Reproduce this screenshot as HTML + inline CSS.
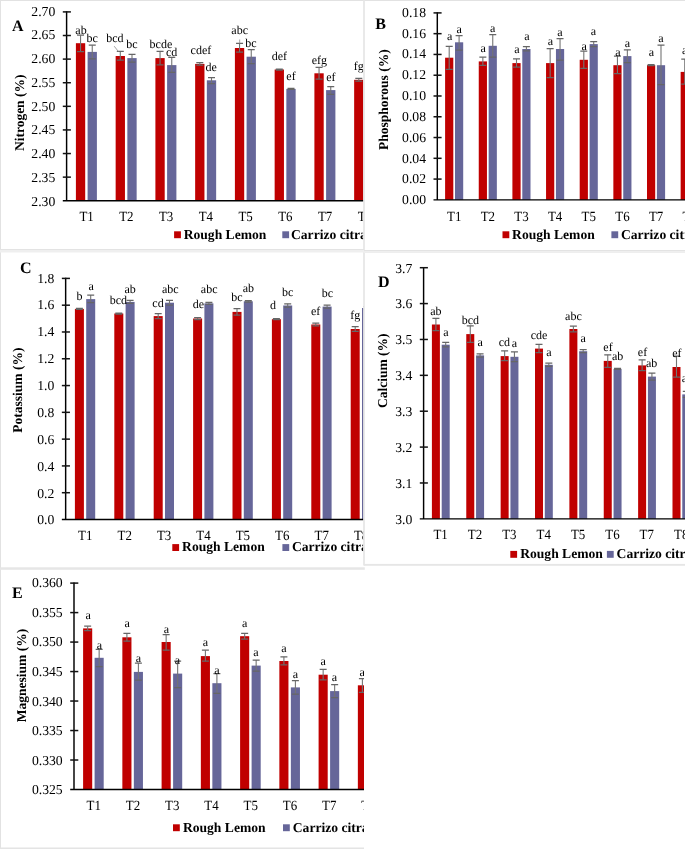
<!DOCTYPE html>
<html><head><meta charset="utf-8"><title>Figure</title>
<style>html,body{margin:0;padding:0;background:#fff}svg{display:block;will-change:transform;mix-blend-mode:multiply}text{text-rendering:geometricPrecision;font-family:"Liberation Serif",serif;fill:#000}</style>
</head><body>
<svg width="685" height="849" viewBox="0 0 685 849">
<rect width="685" height="849" fill="#fff"/>
<defs>
</defs>
<clipPath id="cA"><rect x="0" y="0" width="363.6" height="250"/></clipPath>
<g clip-path="url(#cA)">
<rect x="75.90" y="43.20" width="9.3" height="157.55" fill="#c00000"/>
<path d="M80.55 35.20V51.50" stroke="#747474" stroke-width="1.1" fill="none"/>
<path d="M77.05 35.20H84.05M77.05 51.50H84.05" stroke="#666" stroke-width="1.25" fill="none"/>
<rect x="87.60" y="51.90" width="9.3" height="148.85" fill="#666699"/>
<path d="M92.25 45.20V58.80" stroke="#747474" stroke-width="1.1" fill="none"/>
<path d="M88.75 45.20H95.75M88.75 58.80H95.75" stroke="#666" stroke-width="1.25" fill="none"/>
<rect x="115.65" y="56.00" width="9.3" height="144.75" fill="#c00000"/>
<path d="M120.30 51.30V60.20" stroke="#747474" stroke-width="1.1" fill="none"/>
<path d="M116.80 51.30H123.80M116.80 60.20H123.80" stroke="#666" stroke-width="1.25" fill="none"/>
<rect x="127.35" y="58.10" width="9.3" height="142.65" fill="#666699"/>
<path d="M132.00 54.30V62.00" stroke="#747474" stroke-width="1.1" fill="none"/>
<path d="M128.50 54.30H135.50M128.50 62.00H135.50" stroke="#666" stroke-width="1.25" fill="none"/>
<rect x="155.40" y="58.10" width="9.3" height="142.65" fill="#c00000"/>
<path d="M160.05 51.30V64.80" stroke="#747474" stroke-width="1.1" fill="none"/>
<path d="M156.55 51.30H163.55M156.55 64.80H163.55" stroke="#666" stroke-width="1.25" fill="none"/>
<rect x="167.10" y="65.10" width="9.3" height="135.65" fill="#666699"/>
<path d="M171.75 57.40V72.30" stroke="#747474" stroke-width="1.1" fill="none"/>
<path d="M168.25 57.40H175.25M168.25 72.30H175.25" stroke="#666" stroke-width="1.25" fill="none"/>
<rect x="195.15" y="63.90" width="9.3" height="136.85" fill="#c00000"/>
<path d="M199.80 62.70V65.10" stroke="#747474" stroke-width="1.1" fill="none"/>
<path d="M196.30 62.70H203.30M196.30 65.10H203.30" stroke="#666" stroke-width="1.25" fill="none"/>
<rect x="206.85" y="80.30" width="9.3" height="120.45" fill="#666699"/>
<path d="M211.50 77.50V83.50" stroke="#747474" stroke-width="1.1" fill="none"/>
<path d="M208.00 77.50H215.00M208.00 83.50H215.00" stroke="#666" stroke-width="1.25" fill="none"/>
<rect x="234.90" y="48.00" width="9.3" height="152.75" fill="#c00000"/>
<path d="M239.55 43.40V52.20" stroke="#747474" stroke-width="1.1" fill="none"/>
<path d="M236.05 43.40H243.05M236.05 52.20H243.05" stroke="#666" stroke-width="1.25" fill="none"/>
<rect x="246.60" y="56.70" width="9.3" height="144.05" fill="#666699"/>
<path d="M251.25 49.70V63.70" stroke="#747474" stroke-width="1.1" fill="none"/>
<path d="M247.75 49.70H254.75M247.75 63.70H254.75" stroke="#666" stroke-width="1.25" fill="none"/>
<rect x="274.65" y="69.50" width="9.3" height="131.25" fill="#c00000"/>
<path d="M279.30 69.00V70.00" stroke="#747474" stroke-width="1.1" fill="none"/>
<path d="M275.80 69.00H282.80M275.80 70.00H282.80" stroke="#666" stroke-width="1.25" fill="none"/>
<rect x="286.35" y="88.90" width="9.3" height="111.85" fill="#666699"/>
<path d="M291.00 88.40V89.40" stroke="#747474" stroke-width="1.1" fill="none"/>
<path d="M287.50 88.40H294.50M287.50 89.40H294.50" stroke="#666" stroke-width="1.25" fill="none"/>
<rect x="314.40" y="73.30" width="9.3" height="127.45" fill="#c00000"/>
<path d="M319.05 67.40V79.10" stroke="#747474" stroke-width="1.1" fill="none"/>
<path d="M315.55 67.40H322.55M315.55 79.10H322.55" stroke="#666" stroke-width="1.25" fill="none"/>
<rect x="326.10" y="90.10" width="9.3" height="110.65" fill="#666699"/>
<path d="M330.75 86.60V94.30" stroke="#747474" stroke-width="1.1" fill="none"/>
<path d="M327.25 86.60H334.25M327.25 94.30H334.25" stroke="#666" stroke-width="1.25" fill="none"/>
<rect x="354.15" y="79.80" width="9.3" height="120.95" fill="#c00000"/>
<path d="M358.80 78.40V81.20" stroke="#747474" stroke-width="1.1" fill="none"/>
<path d="M355.30 78.40H362.30M355.30 81.20H362.30" stroke="#666" stroke-width="1.25" fill="none"/>
<rect x="365.85" y="95.00" width="9.3" height="105.75" fill="#666699"/>
<path d="M370.50 93.00V97.00" stroke="#747474" stroke-width="1.1" fill="none"/>
<path d="M367.00 93.00H374.00M367.00 97.00H374.00" stroke="#666" stroke-width="1.25" fill="none"/>
<path d="M114.2 46.2L118.4 51.5" stroke="#8a8a8a" stroke-width="0.8" fill="none"/>
<path d="M239.7 39.5L239.7 43.4" stroke="#8a8a8a" stroke-width="0.8" fill="none"/>
<path d="M66.6 11.20V201.45M62.80 200.75H368.6" stroke="#000" stroke-width="1.45" fill="none"/>
<path d="M62.80 11.90H70.90" stroke="#111" stroke-width="1.5"/>
<text x="55.30" y="15.60" font-size="13.7" text-anchor="end">2.70</text>
<path d="M62.80 35.51H70.90" stroke="#111" stroke-width="1.5"/>
<text x="55.30" y="39.36" font-size="13.7" text-anchor="end">2.65</text>
<path d="M62.80 59.11H70.90" stroke="#111" stroke-width="1.5"/>
<text x="55.30" y="63.11" font-size="13.7" text-anchor="end">2.60</text>
<path d="M62.80 82.72H70.90" stroke="#111" stroke-width="1.5"/>
<text x="55.30" y="86.87" font-size="13.7" text-anchor="end">2.55</text>
<path d="M62.80 106.33H70.90" stroke="#111" stroke-width="1.5"/>
<text x="55.30" y="110.62" font-size="13.7" text-anchor="end">2.50</text>
<path d="M62.80 129.93H70.90" stroke="#111" stroke-width="1.5"/>
<text x="55.30" y="134.38" font-size="13.7" text-anchor="end">2.45</text>
<path d="M62.80 153.54H70.90" stroke="#111" stroke-width="1.5"/>
<text x="55.30" y="158.14" font-size="13.7" text-anchor="end">2.40</text>
<path d="M62.80 177.14H70.90" stroke="#111" stroke-width="1.5"/>
<text x="55.30" y="181.89" font-size="13.7" text-anchor="end">2.35</text>
<text x="55.30" y="205.65" font-size="13.7" text-anchor="end">2.30</text>
<text x="81.00" y="33.50" font-size="12" text-anchor="middle">ab</text>
<text x="92.20" y="42.20" font-size="12" text-anchor="middle">bc</text>
<text x="114.90" y="41.70" font-size="12" text-anchor="middle">bcd</text>
<text x="132.00" y="48.00" font-size="12" text-anchor="middle">bc</text>
<text x="160.90" y="48.00" font-size="12" text-anchor="middle">bcde</text>
<text x="171.70" y="55.50" font-size="12" text-anchor="middle">cd</text>
<text x="200.90" y="53.90" font-size="12" text-anchor="middle">cdef</text>
<text x="211.10" y="70.90" font-size="12" text-anchor="middle">de</text>
<text x="239.70" y="34.00" font-size="12" text-anchor="middle">abc</text>
<text x="250.90" y="47.00" font-size="12" text-anchor="middle">bc</text>
<text x="279.40" y="59.70" font-size="12" text-anchor="middle">def</text>
<text x="291.00" y="79.60" font-size="12" text-anchor="middle">ef</text>
<text x="319.30" y="63.70" font-size="12" text-anchor="middle">efg</text>
<text x="330.80" y="80.70" font-size="12" text-anchor="middle">ef</text>
<text x="358.80" y="70.20" font-size="12" text-anchor="middle">fg</text>
<text transform="translate(86.60 221.20) scale(0.925 1)" font-size="14" text-anchor="middle">T1</text>
<text transform="translate(126.35 221.20) scale(0.925 1)" font-size="14" text-anchor="middle">T2</text>
<text transform="translate(166.10 221.20) scale(0.925 1)" font-size="14" text-anchor="middle">T3</text>
<text transform="translate(205.85 221.20) scale(0.925 1)" font-size="14" text-anchor="middle">T4</text>
<text transform="translate(245.60 221.20) scale(0.925 1)" font-size="14" text-anchor="middle">T5</text>
<text transform="translate(285.35 221.20) scale(0.925 1)" font-size="14" text-anchor="middle">T6</text>
<text transform="translate(325.10 221.20) scale(0.925 1)" font-size="14" text-anchor="middle">T7</text>
<text transform="translate(364.85 221.20) scale(0.925 1)" font-size="14" text-anchor="middle">T8</text>
<rect x="174.1" y="231.29999999999998" width="6.8" height="6.9" fill="#c00000"/>
<text x="183.70" y="238.60" font-size="13.6" text-anchor="start" font-weight="bold">Rough Lemon</text>
<rect x="282.3" y="231.29999999999998" width="6.8" height="6.9" fill="#666699"/>
<text x="291.00" y="238.60" font-size="13.6" text-anchor="start" font-weight="bold">Carrizo citrange</text>
<text x="12.00" y="30.70" font-size="16" text-anchor="start" font-weight="bold">A</text>
<text transform="translate(23.8 112.8) rotate(-90)" font-size="13.5" text-anchor="middle" font-weight="bold">Nitrogen (%)</text>
</g>
<clipPath id="cB"><rect x="365" y="0" width="320" height="250"/></clipPath>
<g clip-path="url(#cB)">
<rect x="445.10" y="57.70" width="8.2" height="142.15" fill="#c00000"/>
<path d="M449.20 46.30V69.40" stroke="#747474" stroke-width="1.1" fill="none"/>
<path d="M445.70 46.30H452.70M445.70 69.40H452.70" stroke="#666" stroke-width="1.25" fill="none"/>
<rect x="455.00" y="42.30" width="8.2" height="157.55" fill="#666699"/>
<path d="M459.10 35.50V50.20" stroke="#747474" stroke-width="1.1" fill="none"/>
<path d="M455.60 35.50H462.60M455.60 50.20H462.60" stroke="#666" stroke-width="1.25" fill="none"/>
<rect x="478.75" y="61.40" width="8.2" height="138.45" fill="#c00000"/>
<path d="M482.85 57.20V65.40" stroke="#747474" stroke-width="1.1" fill="none"/>
<path d="M479.35 57.20H486.35M479.35 65.40H486.35" stroke="#666" stroke-width="1.25" fill="none"/>
<rect x="488.65" y="45.80" width="8.2" height="154.05" fill="#666699"/>
<path d="M492.75 34.60V57.00" stroke="#747474" stroke-width="1.1" fill="none"/>
<path d="M489.25 34.60H496.25M489.25 57.00H496.25" stroke="#666" stroke-width="1.25" fill="none"/>
<rect x="512.40" y="63.10" width="8.2" height="136.75" fill="#c00000"/>
<path d="M516.50 58.90V67.00" stroke="#747474" stroke-width="1.1" fill="none"/>
<path d="M513.00 58.90H520.00M513.00 67.00H520.00" stroke="#666" stroke-width="1.25" fill="none"/>
<rect x="522.30" y="49.00" width="8.2" height="150.85" fill="#666699"/>
<path d="M526.40 46.70V50.90" stroke="#747474" stroke-width="1.1" fill="none"/>
<path d="M522.90 46.70H529.90M522.90 50.90H529.90" stroke="#666" stroke-width="1.25" fill="none"/>
<rect x="546.05" y="63.10" width="8.2" height="136.75" fill="#c00000"/>
<path d="M550.15 48.60V77.60" stroke="#747474" stroke-width="1.1" fill="none"/>
<path d="M546.65 48.60H553.65M546.65 77.60H553.65" stroke="#666" stroke-width="1.25" fill="none"/>
<rect x="555.95" y="49.00" width="8.2" height="150.85" fill="#666699"/>
<path d="M560.05 38.50V60.00" stroke="#747474" stroke-width="1.1" fill="none"/>
<path d="M556.55 38.50H563.55M556.55 60.00H563.55" stroke="#666" stroke-width="1.25" fill="none"/>
<rect x="579.70" y="59.80" width="8.2" height="140.05" fill="#c00000"/>
<path d="M583.80 51.20V68.40" stroke="#747474" stroke-width="1.1" fill="none"/>
<path d="M580.30 51.20H587.30M580.30 68.40H587.30" stroke="#666" stroke-width="1.25" fill="none"/>
<rect x="589.60" y="44.10" width="8.2" height="155.75" fill="#666699"/>
<path d="M593.70 41.60V46.70" stroke="#747474" stroke-width="1.1" fill="none"/>
<path d="M590.20 41.60H597.20M590.20 46.70H597.20" stroke="#666" stroke-width="1.25" fill="none"/>
<rect x="613.35" y="65.20" width="8.2" height="134.65" fill="#c00000"/>
<path d="M617.45 56.10V73.60" stroke="#747474" stroke-width="1.1" fill="none"/>
<path d="M613.95 56.10H620.95M613.95 73.60H620.95" stroke="#666" stroke-width="1.25" fill="none"/>
<rect x="623.25" y="56.10" width="8.2" height="143.75" fill="#666699"/>
<path d="M627.35 49.80V62.60" stroke="#747474" stroke-width="1.1" fill="none"/>
<path d="M623.85 49.80H630.85M623.85 62.60H630.85" stroke="#666" stroke-width="1.25" fill="none"/>
<rect x="647.00" y="65.20" width="8.2" height="134.65" fill="#c00000"/>
<path d="M651.10 64.70V65.70" stroke="#747474" stroke-width="1.1" fill="none"/>
<path d="M647.60 64.70H654.60M647.60 65.70H654.60" stroke="#666" stroke-width="1.25" fill="none"/>
<rect x="656.90" y="65.20" width="8.2" height="134.65" fill="#666699"/>
<path d="M661.00 45.10V84.60" stroke="#747474" stroke-width="1.1" fill="none"/>
<path d="M657.50 45.10H664.50M657.50 84.60H664.50" stroke="#666" stroke-width="1.25" fill="none"/>
<rect x="680.65" y="71.90" width="8.2" height="127.95" fill="#c00000"/>
<path d="M684.75 59.10V84.10" stroke="#747474" stroke-width="1.1" fill="none"/>
<path d="M681.25 59.10H688.25M681.25 84.10H688.25" stroke="#666" stroke-width="1.25" fill="none"/>
<rect x="690.55" y="60.00" width="8.2" height="139.85" fill="#666699"/>
<path d="M694.65 50.00V70.00" stroke="#747474" stroke-width="1.1" fill="none"/>
<path d="M691.15 50.00H698.15M691.15 70.00H698.15" stroke="#666" stroke-width="1.25" fill="none"/>
<path d="M437.3 12.20V200.55M433.50 199.85H690" stroke="#000" stroke-width="1.45" fill="none"/>
<path d="M433.50 12.90H441.60" stroke="#111" stroke-width="1.5"/>
<text x="426.00" y="16.80" font-size="13.7" text-anchor="end">0.18</text>
<path d="M433.50 33.67H441.60" stroke="#111" stroke-width="1.5"/>
<text x="426.00" y="37.62" font-size="13.7" text-anchor="end">0.16</text>
<path d="M433.50 54.44H441.60" stroke="#111" stroke-width="1.5"/>
<text x="426.00" y="58.43" font-size="13.7" text-anchor="end">0.14</text>
<path d="M433.50 75.22H441.60" stroke="#111" stroke-width="1.5"/>
<text x="426.00" y="79.25" font-size="13.7" text-anchor="end">0.12</text>
<path d="M433.50 95.99H441.60" stroke="#111" stroke-width="1.5"/>
<text x="426.00" y="100.07" font-size="13.7" text-anchor="end">0.10</text>
<path d="M433.50 116.76H441.60" stroke="#111" stroke-width="1.5"/>
<text x="426.00" y="120.88" font-size="13.7" text-anchor="end">0.08</text>
<path d="M433.50 137.53H441.60" stroke="#111" stroke-width="1.5"/>
<text x="426.00" y="141.70" font-size="13.7" text-anchor="end">0.06</text>
<path d="M433.50 158.31H441.60" stroke="#111" stroke-width="1.5"/>
<text x="426.00" y="162.52" font-size="13.7" text-anchor="end">0.04</text>
<path d="M433.50 179.08H441.60" stroke="#111" stroke-width="1.5"/>
<text x="426.00" y="183.33" font-size="13.7" text-anchor="end">0.02</text>
<text x="426.00" y="204.15" font-size="13.7" text-anchor="end">0.00</text>
<text x="449.70" y="40.20" font-size="12" text-anchor="middle">a</text>
<text x="459.10" y="32.70" font-size="12" text-anchor="middle">a</text>
<text x="483.10" y="51.90" font-size="12" text-anchor="middle">a</text>
<text x="492.70" y="31.50" font-size="12" text-anchor="middle">a</text>
<text x="516.80" y="53.30" font-size="12" text-anchor="middle">a</text>
<text x="526.90" y="39.70" font-size="12" text-anchor="middle">a</text>
<text x="550.50" y="44.80" font-size="12" text-anchor="middle">a</text>
<text x="560.00" y="35.50" font-size="12" text-anchor="middle">a</text>
<text x="584.10" y="50.20" font-size="12" text-anchor="middle">a</text>
<text x="593.40" y="34.60" font-size="12" text-anchor="middle">a</text>
<text x="618.00" y="56.10" font-size="12" text-anchor="middle">a</text>
<text x="627.30" y="46.70" font-size="12" text-anchor="middle">a</text>
<text x="651.40" y="55.60" font-size="12" text-anchor="middle">a</text>
<text x="661.00" y="42.00" font-size="12" text-anchor="middle">a</text>
<text x="684.70" y="53.90" font-size="12" text-anchor="middle">a</text>
<text transform="translate(454.20 220.80) scale(0.925 1)" font-size="14" text-anchor="middle">T1</text>
<text transform="translate(487.85 220.80) scale(0.925 1)" font-size="14" text-anchor="middle">T2</text>
<text transform="translate(521.50 220.80) scale(0.925 1)" font-size="14" text-anchor="middle">T3</text>
<text transform="translate(555.15 220.80) scale(0.925 1)" font-size="14" text-anchor="middle">T4</text>
<text transform="translate(588.80 220.80) scale(0.925 1)" font-size="14" text-anchor="middle">T5</text>
<text transform="translate(622.45 220.80) scale(0.925 1)" font-size="14" text-anchor="middle">T6</text>
<text transform="translate(656.10 220.80) scale(0.925 1)" font-size="14" text-anchor="middle">T7</text>
<text transform="translate(689.75 220.80) scale(0.925 1)" font-size="14" text-anchor="middle">T8</text>
<rect x="502.5" y="231.29999999999998" width="6.8" height="6.9" fill="#c00000"/>
<text x="512.10" y="238.60" font-size="13.6" text-anchor="start" font-weight="bold">Rough Lemon</text>
<rect x="611.4" y="231.29999999999998" width="6.8" height="6.9" fill="#666699"/>
<text x="620.90" y="238.60" font-size="13.6" text-anchor="start" font-weight="bold">Carrizo citrange</text>
<text x="375.20" y="29.20" font-size="16" text-anchor="start" font-weight="bold">B</text>
<text transform="translate(387.6 99.6) rotate(-90)" font-size="13.5" text-anchor="middle" font-weight="bold">Phosphorous (%)</text>
</g>
<clipPath id="cC"><rect x="0" y="252" width="363.6" height="316"/></clipPath>
<g clip-path="url(#cC)">
<rect x="74.90" y="308.90" width="9.0" height="210.60" fill="#c00000"/>
<path d="M79.40 308.40V309.40" stroke="#747474" stroke-width="1.1" fill="none"/>
<path d="M75.90 308.40H82.90M75.90 309.40H82.90" stroke="#666" stroke-width="1.25" fill="none"/>
<rect x="86.20" y="299.10" width="9.0" height="220.40" fill="#666699"/>
<path d="M90.70 295.10V302.60" stroke="#747474" stroke-width="1.1" fill="none"/>
<path d="M87.20 295.10H94.20M87.20 302.60H94.20" stroke="#666" stroke-width="1.25" fill="none"/>
<rect x="114.30" y="313.50" width="9.0" height="206.00" fill="#c00000"/>
<path d="M118.80 313.00V314.00" stroke="#747474" stroke-width="1.1" fill="none"/>
<path d="M115.30 313.00H122.30M115.30 314.00H122.30" stroke="#666" stroke-width="1.25" fill="none"/>
<rect x="125.60" y="301.90" width="9.0" height="217.60" fill="#666699"/>
<path d="M130.10 300.40V303.40" stroke="#747474" stroke-width="1.1" fill="none"/>
<path d="M126.60 300.40H133.60M126.60 303.40H133.60" stroke="#666" stroke-width="1.25" fill="none"/>
<rect x="153.70" y="316.10" width="9.0" height="203.40" fill="#c00000"/>
<path d="M158.20 313.60V318.50" stroke="#747474" stroke-width="1.1" fill="none"/>
<path d="M154.70 313.60H161.70M154.70 318.50H161.70" stroke="#666" stroke-width="1.25" fill="none"/>
<rect x="165.00" y="302.70" width="9.0" height="216.80" fill="#666699"/>
<path d="M169.50 300.40V305.00" stroke="#747474" stroke-width="1.1" fill="none"/>
<path d="M166.00 300.40H173.00M166.00 305.00H173.00" stroke="#666" stroke-width="1.25" fill="none"/>
<rect x="193.10" y="318.50" width="9.0" height="201.00" fill="#c00000"/>
<path d="M197.60 317.50V319.50" stroke="#747474" stroke-width="1.1" fill="none"/>
<path d="M194.10 317.50H201.10M194.10 319.50H201.10" stroke="#666" stroke-width="1.25" fill="none"/>
<rect x="204.40" y="303.40" width="9.0" height="216.10" fill="#666699"/>
<path d="M208.90 302.40V304.40" stroke="#747474" stroke-width="1.1" fill="none"/>
<path d="M205.40 302.40H212.40M205.40 304.40H212.40" stroke="#666" stroke-width="1.25" fill="none"/>
<rect x="232.50" y="311.90" width="9.0" height="207.60" fill="#c00000"/>
<path d="M237.00 308.60V315.20" stroke="#747474" stroke-width="1.1" fill="none"/>
<path d="M233.50 308.60H240.50M233.50 315.20H240.50" stroke="#666" stroke-width="1.25" fill="none"/>
<rect x="243.80" y="301.30" width="9.0" height="218.20" fill="#666699"/>
<path d="M248.30 300.60V302.00" stroke="#747474" stroke-width="1.1" fill="none"/>
<path d="M244.80 300.60H251.80M244.80 302.00H251.80" stroke="#666" stroke-width="1.25" fill="none"/>
<rect x="271.90" y="319.20" width="9.0" height="200.30" fill="#c00000"/>
<path d="M276.40 318.70V319.70" stroke="#747474" stroke-width="1.1" fill="none"/>
<path d="M272.90 318.70H279.90M272.90 319.70H279.90" stroke="#666" stroke-width="1.25" fill="none"/>
<rect x="283.20" y="305.50" width="9.0" height="214.00" fill="#666699"/>
<path d="M287.70 303.80V307.20" stroke="#747474" stroke-width="1.1" fill="none"/>
<path d="M284.20 303.80H291.20M284.20 307.20H291.20" stroke="#666" stroke-width="1.25" fill="none"/>
<rect x="311.30" y="324.50" width="9.0" height="195.00" fill="#c00000"/>
<path d="M315.80 323.10V325.90" stroke="#747474" stroke-width="1.1" fill="none"/>
<path d="M312.30 323.10H319.30M312.30 325.90H319.30" stroke="#666" stroke-width="1.25" fill="none"/>
<rect x="322.60" y="306.60" width="9.0" height="212.90" fill="#666699"/>
<path d="M327.10 305.20V308.00" stroke="#747474" stroke-width="1.1" fill="none"/>
<path d="M323.60 305.20H330.60M323.60 308.00H330.60" stroke="#666" stroke-width="1.25" fill="none"/>
<rect x="350.70" y="329.00" width="9.0" height="190.50" fill="#c00000"/>
<path d="M355.20 326.60V331.40" stroke="#747474" stroke-width="1.1" fill="none"/>
<path d="M351.70 326.60H358.70M351.70 331.40H358.70" stroke="#666" stroke-width="1.25" fill="none"/>
<rect x="362.00" y="308.00" width="9.0" height="211.50" fill="#666699"/>
<path d="M366.50 306.50V309.50" stroke="#747474" stroke-width="1.1" fill="none"/>
<path d="M363.00 306.50H370.00M363.00 309.50H370.00" stroke="#666" stroke-width="1.25" fill="none"/>
<path d="M65.65 277.70V520.20M61.85 519.50H368.6" stroke="#000" stroke-width="1.45" fill="none"/>
<path d="M61.85 278.40H69.95" stroke="#111" stroke-width="1.5"/>
<text x="54.35" y="282.60" font-size="13.7" text-anchor="end">1.8</text>
<path d="M61.85 305.19H69.95" stroke="#111" stroke-width="1.5"/>
<text x="54.35" y="309.47" font-size="13.7" text-anchor="end">1.6</text>
<path d="M61.85 331.98H69.95" stroke="#111" stroke-width="1.5"/>
<text x="54.35" y="336.33" font-size="13.7" text-anchor="end">1.4</text>
<path d="M61.85 358.77H69.95" stroke="#111" stroke-width="1.5"/>
<text x="54.35" y="363.20" font-size="13.7" text-anchor="end">1.2</text>
<path d="M61.85 385.56H69.95" stroke="#111" stroke-width="1.5"/>
<text x="54.35" y="390.07" font-size="13.7" text-anchor="end">1.0</text>
<path d="M61.85 412.34H69.95" stroke="#111" stroke-width="1.5"/>
<text x="54.35" y="416.93" font-size="13.7" text-anchor="end">0.8</text>
<path d="M61.85 439.13H69.95" stroke="#111" stroke-width="1.5"/>
<text x="54.35" y="443.80" font-size="13.7" text-anchor="end">0.6</text>
<path d="M61.85 465.92H69.95" stroke="#111" stroke-width="1.5"/>
<text x="54.35" y="470.67" font-size="13.7" text-anchor="end">0.4</text>
<path d="M61.85 492.71H69.95" stroke="#111" stroke-width="1.5"/>
<text x="54.35" y="497.53" font-size="13.7" text-anchor="end">0.2</text>
<text x="54.35" y="524.40" font-size="13.7" text-anchor="end">0.0</text>
<text x="79.40" y="299.50" font-size="12" text-anchor="middle">b</text>
<text x="91.10" y="289.70" font-size="12" text-anchor="middle">a</text>
<text x="118.40" y="304.20" font-size="12" text-anchor="middle">bcd</text>
<text x="130.10" y="293.20" font-size="12" text-anchor="middle">ab</text>
<text x="158.00" y="306.60" font-size="12" text-anchor="middle">cd</text>
<text x="170.30" y="293.30" font-size="12" text-anchor="middle">abc</text>
<text x="198.30" y="308.40" font-size="12" text-anchor="middle">de</text>
<text x="209.20" y="293.30" font-size="12" text-anchor="middle">abc</text>
<text x="236.90" y="301.30" font-size="12" text-anchor="middle">bc</text>
<text x="248.40" y="292.00" font-size="12" text-anchor="middle">ab</text>
<text x="273.00" y="308.70" font-size="12" text-anchor="middle">d</text>
<text x="287.70" y="295.70" font-size="12" text-anchor="middle">bc</text>
<text x="315.70" y="315.00" font-size="12" text-anchor="middle">ef</text>
<text x="327.30" y="297.40" font-size="12" text-anchor="middle">bc</text>
<text x="355.30" y="318.50" font-size="12" text-anchor="middle">fg</text>
<text transform="translate(85.30 539.60) scale(0.925 1)" font-size="14" text-anchor="middle">T1</text>
<text transform="translate(124.70 539.60) scale(0.925 1)" font-size="14" text-anchor="middle">T2</text>
<text transform="translate(164.10 539.60) scale(0.925 1)" font-size="14" text-anchor="middle">T3</text>
<text transform="translate(203.50 539.60) scale(0.925 1)" font-size="14" text-anchor="middle">T4</text>
<text transform="translate(242.90 539.60) scale(0.925 1)" font-size="14" text-anchor="middle">T5</text>
<text transform="translate(282.30 539.60) scale(0.925 1)" font-size="14" text-anchor="middle">T6</text>
<text transform="translate(321.70 539.60) scale(0.925 1)" font-size="14" text-anchor="middle">T7</text>
<text transform="translate(361.10 539.60) scale(0.925 1)" font-size="14" text-anchor="middle">T8</text>
<rect x="172.3" y="544.1" width="6.8" height="6.9" fill="#c00000"/>
<text x="182.10" y="551.40" font-size="13.6" text-anchor="start" font-weight="bold">Rough Lemon</text>
<rect x="282.4" y="544.1" width="6.8" height="6.9" fill="#666699"/>
<text x="291.90" y="551.40" font-size="13.6" text-anchor="start" font-weight="bold">Carrizo citrange</text>
<text x="20.10" y="272.90" font-size="16" text-anchor="start" font-weight="bold">C</text>
<text transform="translate(21.5 390.1) rotate(-90)" font-size="13.5" text-anchor="middle" font-weight="bold">Potassium (%)</text>
</g>
<clipPath id="cD"><rect x="365" y="252" width="320" height="312"/></clipPath>
<g clip-path="url(#cD)">
<rect x="431.90" y="324.50" width="8.0" height="194.35" fill="#c00000"/>
<path d="M435.90 318.30V330.50" stroke="#747474" stroke-width="1.1" fill="none"/>
<path d="M432.40 318.30H439.40M432.40 330.50H439.40" stroke="#666" stroke-width="1.25" fill="none"/>
<rect x="441.70" y="344.70" width="8.0" height="174.15" fill="#666699"/>
<path d="M445.70 342.40V346.90" stroke="#747474" stroke-width="1.1" fill="none"/>
<path d="M442.20 342.40H449.20M442.20 346.90H449.20" stroke="#666" stroke-width="1.25" fill="none"/>
<rect x="466.27" y="334.10" width="8.0" height="184.75" fill="#c00000"/>
<path d="M470.27 325.80V342.40" stroke="#747474" stroke-width="1.1" fill="none"/>
<path d="M466.77 325.80H473.77M466.77 342.40H473.77" stroke="#666" stroke-width="1.25" fill="none"/>
<rect x="476.07" y="355.40" width="8.0" height="163.45" fill="#666699"/>
<path d="M480.07 353.80V357.00" stroke="#747474" stroke-width="1.1" fill="none"/>
<path d="M476.57 353.80H483.57M476.57 357.00H483.57" stroke="#666" stroke-width="1.25" fill="none"/>
<rect x="500.64" y="356.10" width="8.0" height="162.75" fill="#c00000"/>
<path d="M504.64 350.90V360.70" stroke="#747474" stroke-width="1.1" fill="none"/>
<path d="M501.14 350.90H508.14M501.14 360.70H508.14" stroke="#666" stroke-width="1.25" fill="none"/>
<rect x="510.44" y="356.80" width="8.0" height="162.05" fill="#666699"/>
<path d="M514.44 351.90V361.70" stroke="#747474" stroke-width="1.1" fill="none"/>
<path d="M510.94 351.90H517.94M510.94 361.70H517.94" stroke="#666" stroke-width="1.25" fill="none"/>
<rect x="535.01" y="348.60" width="8.0" height="170.25" fill="#c00000"/>
<path d="M539.01 344.40V352.60" stroke="#747474" stroke-width="1.1" fill="none"/>
<path d="M535.51 344.40H542.51M535.51 352.60H542.51" stroke="#666" stroke-width="1.25" fill="none"/>
<rect x="544.81" y="364.80" width="8.0" height="154.05" fill="#666699"/>
<path d="M548.81 363.20V366.40" stroke="#747474" stroke-width="1.1" fill="none"/>
<path d="M545.31 363.20H552.31M545.31 366.40H552.31" stroke="#666" stroke-width="1.25" fill="none"/>
<rect x="569.38" y="329.00" width="8.0" height="189.85" fill="#c00000"/>
<path d="M573.38 326.20V331.80" stroke="#747474" stroke-width="1.1" fill="none"/>
<path d="M569.88 326.20H576.88M569.88 331.80H576.88" stroke="#666" stroke-width="1.25" fill="none"/>
<rect x="579.18" y="351.20" width="8.0" height="167.65" fill="#666699"/>
<path d="M583.18 349.70V352.70" stroke="#747474" stroke-width="1.1" fill="none"/>
<path d="M579.68 349.70H586.68M579.68 352.70H586.68" stroke="#666" stroke-width="1.25" fill="none"/>
<rect x="603.75" y="360.90" width="8.0" height="157.95" fill="#c00000"/>
<path d="M607.75 354.80V367.40" stroke="#747474" stroke-width="1.1" fill="none"/>
<path d="M604.25 354.80H611.25M604.25 367.40H611.25" stroke="#666" stroke-width="1.25" fill="none"/>
<rect x="613.55" y="368.90" width="8.0" height="149.95" fill="#666699"/>
<path d="M617.55 368.40V369.40" stroke="#747474" stroke-width="1.1" fill="none"/>
<path d="M614.05 368.40H621.05M614.05 369.40H621.05" stroke="#666" stroke-width="1.25" fill="none"/>
<rect x="638.12" y="365.40" width="8.0" height="153.45" fill="#c00000"/>
<path d="M642.12 359.90V370.50" stroke="#747474" stroke-width="1.1" fill="none"/>
<path d="M638.62 359.90H645.62M638.62 370.50H645.62" stroke="#666" stroke-width="1.25" fill="none"/>
<rect x="647.92" y="376.60" width="8.0" height="142.25" fill="#666699"/>
<path d="M651.92 373.00V380.10" stroke="#747474" stroke-width="1.1" fill="none"/>
<path d="M648.42 373.00H655.42M648.42 380.10H655.42" stroke="#666" stroke-width="1.25" fill="none"/>
<rect x="672.49" y="367.00" width="8.0" height="151.85" fill="#c00000"/>
<path d="M676.49 356.20V377.00" stroke="#747474" stroke-width="1.1" fill="none"/>
<path d="M672.99 356.20H679.99M672.99 377.00H679.99" stroke="#666" stroke-width="1.25" fill="none"/>
<rect x="682.29" y="394.40" width="8.0" height="124.45" fill="#666699"/>
<path d="M686.29 391.40V397.40" stroke="#747474" stroke-width="1.1" fill="none"/>
<path d="M682.79 391.40H689.79M682.79 397.40H689.79" stroke="#666" stroke-width="1.25" fill="none"/>
<path d="M423.6 267.00V519.55M419.80 518.85H690" stroke="#000" stroke-width="1.45" fill="none"/>
<path d="M419.80 267.70H427.90" stroke="#111" stroke-width="1.5"/>
<text x="412.30" y="272.60" font-size="13.7" text-anchor="end">3.7</text>
<path d="M419.80 303.58H427.90" stroke="#111" stroke-width="1.5"/>
<text x="412.30" y="308.48" font-size="13.7" text-anchor="end">3.6</text>
<path d="M419.80 339.46H427.90" stroke="#111" stroke-width="1.5"/>
<text x="412.30" y="344.36" font-size="13.7" text-anchor="end">3.5</text>
<path d="M419.80 375.34H427.90" stroke="#111" stroke-width="1.5"/>
<text x="412.30" y="380.24" font-size="13.7" text-anchor="end">3.4</text>
<path d="M419.80 411.21H427.90" stroke="#111" stroke-width="1.5"/>
<text x="412.30" y="416.11" font-size="13.7" text-anchor="end">3.3</text>
<path d="M419.80 447.09H427.90" stroke="#111" stroke-width="1.5"/>
<text x="412.30" y="451.99" font-size="13.7" text-anchor="end">3.2</text>
<path d="M419.80 482.97H427.90" stroke="#111" stroke-width="1.5"/>
<text x="412.30" y="487.87" font-size="13.7" text-anchor="end">3.1</text>
<text x="412.30" y="523.75" font-size="13.7" text-anchor="end">3.0</text>
<text x="435.90" y="314.90" font-size="12" text-anchor="middle">ab</text>
<text x="445.90" y="335.50" font-size="12" text-anchor="middle">a</text>
<text x="470.40" y="324.40" font-size="12" text-anchor="middle">bcd</text>
<text x="480.20" y="346.30" font-size="12" text-anchor="middle">a</text>
<text x="504.40" y="346.10" font-size="12" text-anchor="middle">cd</text>
<text x="514.30" y="347.30" font-size="12" text-anchor="middle">a</text>
<text x="539.10" y="339.00" font-size="12" text-anchor="middle">cde</text>
<text x="549.00" y="355.60" font-size="12" text-anchor="middle">a</text>
<text x="573.40" y="319.60" font-size="12" text-anchor="middle">abc</text>
<text x="583.20" y="341.90" font-size="12" text-anchor="middle">a</text>
<text x="608.00" y="351.10" font-size="12" text-anchor="middle">ef</text>
<text x="617.60" y="359.90" font-size="12" text-anchor="middle">ab</text>
<text x="642.50" y="355.60" font-size="12" text-anchor="middle">ef</text>
<text x="651.70" y="367.40" font-size="12" text-anchor="middle">ab</text>
<text x="676.80" y="357.20" font-size="12" text-anchor="middle">ef</text>
<text x="684.50" y="381.80" font-size="12" text-anchor="middle">a</text>
<text transform="translate(440.60 539.30) scale(0.925 1)" font-size="14" text-anchor="middle">T1</text>
<text transform="translate(474.97 539.30) scale(0.925 1)" font-size="14" text-anchor="middle">T2</text>
<text transform="translate(509.34 539.30) scale(0.925 1)" font-size="14" text-anchor="middle">T3</text>
<text transform="translate(543.71 539.30) scale(0.925 1)" font-size="14" text-anchor="middle">T4</text>
<text transform="translate(578.08 539.30) scale(0.925 1)" font-size="14" text-anchor="middle">T5</text>
<text transform="translate(612.45 539.30) scale(0.925 1)" font-size="14" text-anchor="middle">T6</text>
<text transform="translate(646.82 539.30) scale(0.925 1)" font-size="14" text-anchor="middle">T7</text>
<text transform="translate(681.19 539.30) scale(0.925 1)" font-size="14" text-anchor="middle">T8</text>
<rect x="510.3" y="550.9000000000001" width="6.8" height="6.9" fill="#c00000"/>
<text x="520.20" y="558.20" font-size="13.6" text-anchor="start" font-weight="bold">Rough Lemon</text>
<rect x="606.9" y="550.9000000000001" width="6.8" height="6.9" fill="#666699"/>
<text x="616.60" y="558.20" font-size="13.6" text-anchor="start" font-weight="bold">Carrizo citrange</text>
<text x="378.00" y="286.90" font-size="16" text-anchor="start" font-weight="bold">D</text>
<text transform="translate(386.6 370.8) rotate(-90)" font-size="13.5" text-anchor="middle" font-weight="bold">Calcium (%)</text>
</g>
<clipPath id="cE"><rect x="0" y="569" width="364" height="280"/></clipPath>
<g clip-path="url(#cE)">
<rect x="83.10" y="628.40" width="9.1" height="161.10" fill="#c00000"/>
<path d="M87.65 626.20V630.60" stroke="#747474" stroke-width="1.1" fill="none"/>
<path d="M84.15 626.20H91.15M84.15 630.60H91.15" stroke="#666" stroke-width="1.25" fill="none"/>
<rect x="94.60" y="657.80" width="9.1" height="131.70" fill="#666699"/>
<path d="M99.15 649.30V666.60" stroke="#747474" stroke-width="1.1" fill="none"/>
<path d="M95.65 649.30H102.65M95.65 666.60H102.65" stroke="#666" stroke-width="1.25" fill="none"/>
<rect x="122.35" y="637.30" width="9.1" height="152.20" fill="#c00000"/>
<path d="M126.90 633.40V641.20" stroke="#747474" stroke-width="1.1" fill="none"/>
<path d="M123.40 633.40H130.40M123.40 641.20H130.40" stroke="#666" stroke-width="1.25" fill="none"/>
<rect x="133.85" y="671.90" width="9.1" height="117.60" fill="#666699"/>
<path d="M138.40 663.10V680.10" stroke="#747474" stroke-width="1.1" fill="none"/>
<path d="M134.90 663.10H141.90M134.90 680.10H141.90" stroke="#666" stroke-width="1.25" fill="none"/>
<rect x="161.60" y="642.00" width="9.1" height="147.50" fill="#c00000"/>
<path d="M166.15 634.60V650.20" stroke="#747474" stroke-width="1.1" fill="none"/>
<path d="M162.65 634.60H169.65M162.65 650.20H169.65" stroke="#666" stroke-width="1.25" fill="none"/>
<rect x="173.10" y="673.60" width="9.1" height="115.90" fill="#666699"/>
<path d="M177.65 661.20V687.60" stroke="#747474" stroke-width="1.1" fill="none"/>
<path d="M174.15 661.20H181.15M174.15 687.60H181.15" stroke="#666" stroke-width="1.25" fill="none"/>
<rect x="200.85" y="656.10" width="9.1" height="133.40" fill="#c00000"/>
<path d="M205.40 650.20V661.20" stroke="#747474" stroke-width="1.1" fill="none"/>
<path d="M201.90 650.20H208.90M201.90 661.20H208.90" stroke="#666" stroke-width="1.25" fill="none"/>
<rect x="212.35" y="683.20" width="9.1" height="106.30" fill="#666699"/>
<path d="M216.90 673.60V693.40" stroke="#747474" stroke-width="1.1" fill="none"/>
<path d="M213.40 673.60H220.40M213.40 693.40H220.40" stroke="#666" stroke-width="1.25" fill="none"/>
<rect x="240.10" y="636.20" width="9.1" height="153.30" fill="#c00000"/>
<path d="M244.65 633.40V639.00" stroke="#747474" stroke-width="1.1" fill="none"/>
<path d="M241.15 633.40H248.15M241.15 639.00H248.15" stroke="#666" stroke-width="1.25" fill="none"/>
<rect x="251.60" y="665.60" width="9.1" height="123.90" fill="#666699"/>
<path d="M256.15 660.00V671.20" stroke="#747474" stroke-width="1.1" fill="none"/>
<path d="M252.65 660.00H259.65M252.65 671.20H259.65" stroke="#666" stroke-width="1.25" fill="none"/>
<rect x="279.35" y="661.00" width="9.1" height="128.50" fill="#c00000"/>
<path d="M283.90 656.80V664.90" stroke="#747474" stroke-width="1.1" fill="none"/>
<path d="M280.40 656.80H287.40M280.40 664.90H287.40" stroke="#666" stroke-width="1.25" fill="none"/>
<rect x="290.85" y="687.40" width="9.1" height="102.10" fill="#666699"/>
<path d="M295.40 680.60V694.10" stroke="#747474" stroke-width="1.1" fill="none"/>
<path d="M291.90 680.60H298.90M291.90 694.10H298.90" stroke="#666" stroke-width="1.25" fill="none"/>
<rect x="318.60" y="674.70" width="9.1" height="114.80" fill="#c00000"/>
<path d="M323.15 669.40V679.90" stroke="#747474" stroke-width="1.1" fill="none"/>
<path d="M319.65 669.40H326.65M319.65 679.90H326.65" stroke="#666" stroke-width="1.25" fill="none"/>
<rect x="330.10" y="691.10" width="9.1" height="98.40" fill="#666699"/>
<path d="M334.65 684.60V697.60" stroke="#747474" stroke-width="1.1" fill="none"/>
<path d="M331.15 684.60H338.15M331.15 697.60H338.15" stroke="#666" stroke-width="1.25" fill="none"/>
<rect x="357.85" y="685.30" width="9.1" height="104.20" fill="#c00000"/>
<path d="M362.40 678.70V692.30" stroke="#747474" stroke-width="1.1" fill="none"/>
<path d="M358.90 678.70H365.90M358.90 692.30H365.90" stroke="#666" stroke-width="1.25" fill="none"/>
<rect x="369.35" y="700.00" width="9.1" height="89.50" fill="#666699"/>
<path d="M373.90 690.00V710.00" stroke="#747474" stroke-width="1.1" fill="none"/>
<path d="M370.40 690.00H377.40M370.40 710.00H377.40" stroke="#666" stroke-width="1.25" fill="none"/>
<path d="M74.0 582.40V790.20M70.20 789.50H369" stroke="#000" stroke-width="1.45" fill="none"/>
<path d="M70.20 583.10H78.30" stroke="#111" stroke-width="1.5"/>
<text x="62.70" y="587.20" font-size="13.7" text-anchor="end">0.360</text>
<path d="M70.20 612.59H78.30" stroke="#111" stroke-width="1.5"/>
<text x="62.70" y="616.80" font-size="13.7" text-anchor="end">0.355</text>
<path d="M70.20 642.07H78.30" stroke="#111" stroke-width="1.5"/>
<text x="62.70" y="646.40" font-size="13.7" text-anchor="end">0.350</text>
<path d="M70.20 671.56H78.30" stroke="#111" stroke-width="1.5"/>
<text x="62.70" y="676.00" font-size="13.7" text-anchor="end">0.345</text>
<path d="M70.20 701.04H78.30" stroke="#111" stroke-width="1.5"/>
<text x="62.70" y="705.60" font-size="13.7" text-anchor="end">0.340</text>
<path d="M70.20 730.53H78.30" stroke="#111" stroke-width="1.5"/>
<text x="62.70" y="735.20" font-size="13.7" text-anchor="end">0.335</text>
<path d="M70.20 760.01H78.30" stroke="#111" stroke-width="1.5"/>
<text x="62.70" y="764.80" font-size="13.7" text-anchor="end">0.330</text>
<text x="62.70" y="794.40" font-size="13.7" text-anchor="end">0.325</text>
<text x="88.20" y="618.50" font-size="12" text-anchor="middle">a</text>
<text x="99.30" y="648.60" font-size="12" text-anchor="middle">a</text>
<text x="127.20" y="627.40" font-size="12" text-anchor="middle">a</text>
<text x="138.40" y="662.30" font-size="12" text-anchor="middle">a</text>
<text x="166.50" y="633.20" font-size="12" text-anchor="middle">a</text>
<text x="177.50" y="663.50" font-size="12" text-anchor="middle">a</text>
<text x="205.50" y="646.30" font-size="12" text-anchor="middle">a</text>
<text x="216.80" y="673.60" font-size="12" text-anchor="middle">a</text>
<text x="244.60" y="627.20" font-size="12" text-anchor="middle">a</text>
<text x="255.80" y="656.10" font-size="12" text-anchor="middle">a</text>
<text x="283.80" y="652.00" font-size="12" text-anchor="middle">a</text>
<text x="295.30" y="677.60" font-size="12" text-anchor="middle">a</text>
<text x="323.10" y="664.90" font-size="12" text-anchor="middle">a</text>
<text x="334.30" y="681.30" font-size="12" text-anchor="middle">a</text>
<text x="362.10" y="675.90" font-size="12" text-anchor="middle">a</text>
<text transform="translate(93.70 809.50) scale(0.925 1)" font-size="14" text-anchor="middle">T1</text>
<text transform="translate(132.95 809.50) scale(0.925 1)" font-size="14" text-anchor="middle">T2</text>
<text transform="translate(172.20 809.50) scale(0.925 1)" font-size="14" text-anchor="middle">T3</text>
<text transform="translate(211.45 809.50) scale(0.925 1)" font-size="14" text-anchor="middle">T4</text>
<text transform="translate(250.70 809.50) scale(0.925 1)" font-size="14" text-anchor="middle">T5</text>
<text transform="translate(289.95 809.50) scale(0.925 1)" font-size="14" text-anchor="middle">T6</text>
<text transform="translate(329.20 809.50) scale(0.925 1)" font-size="14" text-anchor="middle">T7</text>
<text transform="translate(368.45 809.50) scale(0.925 1)" font-size="14" text-anchor="middle">T8</text>
<rect x="173.0" y="824.3000000000001" width="6.8" height="6.9" fill="#c00000"/>
<text x="182.90" y="831.60" font-size="13.6" text-anchor="start" font-weight="bold">Rough Lemon</text>
<rect x="283.0" y="824.3000000000001" width="6.8" height="6.9" fill="#666699"/>
<text x="292.80" y="831.60" font-size="13.6" text-anchor="start" font-weight="bold">Carrizo citrange</text>
<text x="12.10" y="597.70" font-size="16" text-anchor="start" font-weight="bold">E</text>
<text transform="translate(26.1 675.5) rotate(-90)" font-size="13.5" text-anchor="middle" font-weight="bold">Magnesium (%)</text>
</g>
<g stroke="#e2e2e2" stroke-width="1" fill="none">
<path d="M0 0.5H685"/>
<path d="M0.5 0V849"/>
<path d="M364.0 0V565.4" stroke-width="1.7" stroke="#e5e5e5"/>
</g>
<rect x="0" y="249" width="364" height="1" fill="#e3e3e3"/>
<rect x="0" y="250" width="364" height="2.5" fill="#efefef"/>
<rect x="364" y="250" width="321" height="1.1" fill="#e3e3e3"/>
<rect x="364" y="251.1" width="321" height="1.9" fill="#eeeeee"/>
<rect x="364" y="563.9" width="321" height="1.9" fill="#e6e6e6"/>
<rect x="0" y="567.3" width="364.8" height="2.5" fill="#e6e6e6"/>
<rect x="0" y="847.5" width="364" height="1.5" fill="#e4e4e4"/>
<g>
</g>
</svg></body></html>
